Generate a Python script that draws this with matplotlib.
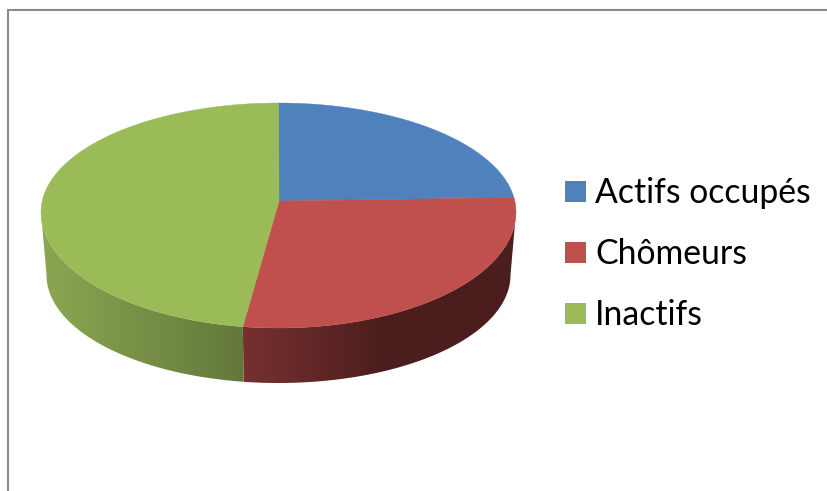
import numpy as np
import matplotlib
matplotlib.use('Agg')
import matplotlib.pyplot as plt
from matplotlib.patches import Polygon, Rectangle

labels = ['Actifs occupés', 'Chômeurs', 'Inactifs']
values = [22.9, 29.5, 47.6]
colors = ['#4f81bd', '#c0504d', '#9bbb59']

# side wall shades, (x pixel, colour)
side_green = [(45, '#8ba652'), (243, '#63783a')]
side_red = [(243, '#773030'), (385, '#4b1e1d'), (516, '#4b1e1d')]


def shade(xs, stops):
    sx = [s[0] for s in stops]
    rgb = np.array([matplotlib.colors.to_rgb(s[1]) for s in stops])
    return np.stack([np.interp(xs, sx, rgb[:, i]) for i in range(3)], axis=-1)


def top_rim(t):
    x = 278.5 + 237.5 * np.sin(t)
    c = np.cos(t)
    y = 212 - 109 * c if c > 0 else 212 - 116 * c
    return x, y


def bottom_rim(t):
    return 278.5 + 232 * np.sin(t), 275 - 108 * np.cos(t)


fig = plt.figure(figsize=(8.28, 4.91), dpi=100)
ax = fig.add_axes([0, 0, 1, 1])

# frame, only top and left are visible in the crop
ax.plot([828, 8.3, 8.3], [10, 10, 491], color='#8a8a8a', lw=1.5, solid_joinstyle='miter')

ends = np.cumsum(values) / np.sum(values) * 2 * np.pi
starts = np.concatenate([[0], ends[:-1]])

# side wall of the front half, gradient image clipped to the wall shape
for t0, t1, stops, col in [(np.pi / 2, ends[1], side_red, colors[1]),
                           (ends[1], 3 * np.pi / 2, side_green, colors[2])]:
    ts = np.linspace(t0, t1, 200)
    pts = [top_rim(t) for t in ts] + [bottom_rim(t) for t in ts[::-1]]
    xs = np.arange(0, 828)
    grad = shade(xs, stops)[np.newaxis, :, :]
    im = ax.imshow(grad, extent=[0, 828, 491, 0], aspect='auto', zorder=1)
    wall = Polygon(pts, closed=True, facecolor='none', edgecolor='none')
    ax.add_patch(wall)
    im.set_clip_path(wall)

# top face
apex = (279, 201)
for s, e, col in zip(starts, ends, colors):
    pts = [apex] + [top_rim(t) for t in np.linspace(s, e, 200)]
    ax.add_patch(Polygon(pts, closed=True, facecolor=col, edgecolor=col, lw=0.3, zorder=2))

# legend
for y, lab, col in zip([181, 242, 303], labels, colors):
    ax.add_patch(Rectangle((565, y), 21, 21, facecolor=col, edgecolor='none'))
    ax.text(595, y + 12, lab, fontsize=24.3, family='Lato', va='center', ha='left', color='black')

ax.set_xlim(0, 828)
ax.set_ylim(491, 0)
ax.axis('off')

fig.savefig('out.png', dpi=100)
